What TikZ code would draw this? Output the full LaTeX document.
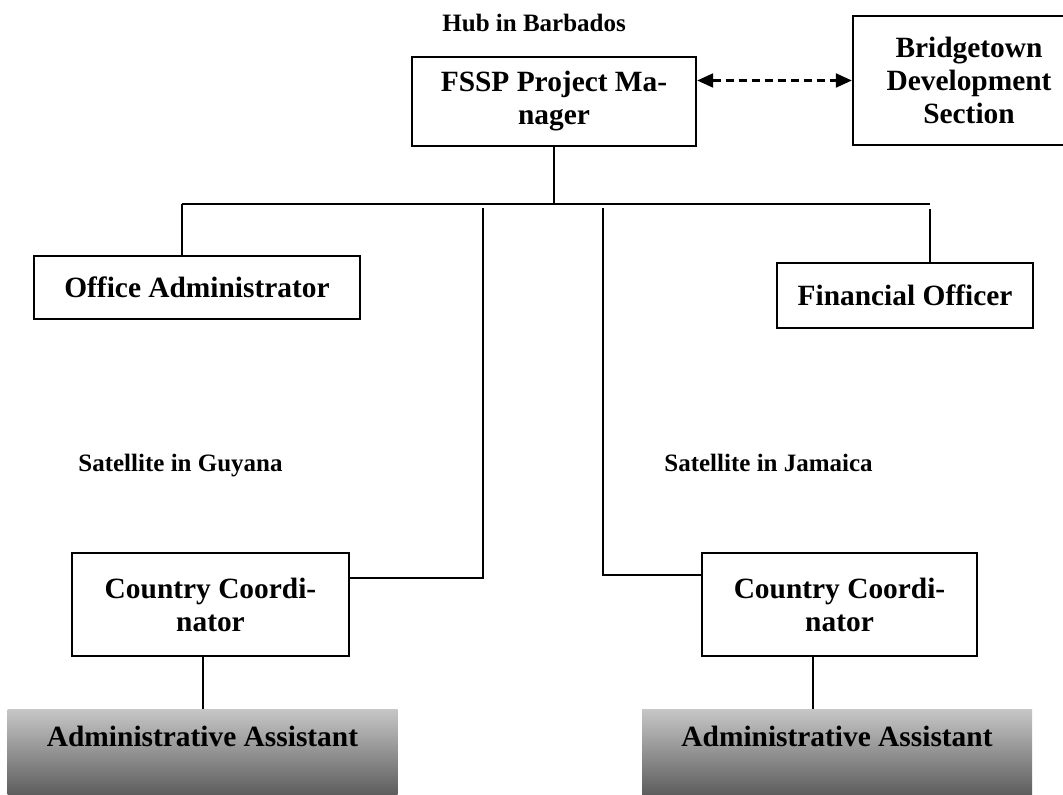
\documentclass[tikz,border=0pt]{standalone}
\usepackage{fontspec}
\setmainfont{Liberation Serif}
\usetikzlibrary{calc, arrows.meta}

\begin{document}
\begin{tikzpicture}[x=0.5pt, y=-0.5pt,
    every node/.style={font=\fontsize{14.7}{16.5}\selectfont\bfseries, align=center, inner sep=0pt},
    orgbox/.style={draw, line width=1.2pt, fill=white},
    sitelabel/.style={anchor=base west, font=\fontsize{12.5}{15}\selectfont\bfseries},
    aabox/.style={top color=black!22, middle color=black!36, bottom color=black!66,
                  minimum width=195pt, minimum height=45.5pt},
    link/.style={line width=1pt},
    dashlink/.style={line width=1.1pt, dash pattern=on 4pt off 2.5pt,
                     {Triangle[length=8pt,width=7pt]}-{Triangle[length=8pt,width=7pt]}}]
      \useasboundingbox (0,0) rectangle (1063,794);
      \clip (0,0) rectangle (1063,794);

      % 1. hub in Barbados
      \node[sitelabel] (hub) at (442,31) {Hub in Barbados};
      \node[orgbox, minimum width=142pt, minimum height=44.5pt] (pm) at (554,101.5)
        {FSSP Project Ma-\\nager};
      \node[orgbox, minimum width=116pt, minimum height=64.5pt] (bds) at (969,80.5)
        {Bridgetown\\Development\\Section};
      \node[orgbox, minimum width=163pt, minimum height=31.5pt] (oa) at (197,287.5)
        {Office Administrator};
      \node[orgbox, minimum width=128pt, minimum height=32.5pt] (fo) at (905,295.5)
        {Financial Officer};

      % 2. satellites in Guyana and Jamaica
      \node[sitelabel] (satG) at (78,471) {Satellite in Guyana};
      \node[sitelabel] (satJ) at (664,471) {Satellite in Jamaica};
      \node[orgbox, minimum width=138.5pt, minimum height=51.5pt] (ccG) at (210.5,604.5)
        {Country Coordi-\\nator};
      \node[orgbox, minimum width=137.5pt, minimum height=51.5pt] (ccJ) at (839.5,604.5)
        {Country Coordi-\\nator};

      % 3. shaded assistant boxes, text sits high
      \node[aabox] (aaG) at (202.5,754.5) {};
      \node[aabox] (aaJ) at (837,754.5) {};
      \node (aaGtext) at ($(aaG.north)+(0,28)$) {Administrative Assistant};
      \node (aaJtext) at ($(aaJ.north)+(0,28)$) {Administrative Assistant};

      % 4. bus line under the project manager
      \coordinate (busL) at (182,204);
      \coordinate (busR) at (930,204);
      \coordinate (tapG) at (483,208);
      \coordinate (tapJ) at (603,208);
      \coordinate (tapF) at (930,209);
      \coordinate (dropJ) at (813,656);
      \draw[link] (pm.south) -- (pm.south |- busL);
      \draw[link] (busL) -- (busR);
      \draw[link] (busL) -- (busL |- oa.north);
      \draw[link] (tapF) -- (tapF |- fo.north);

      % 5. lines down to the country coordinators
      \draw[link] (tapG) |- ($(ccG.north east)!0.25!(ccG.south east)$);
      \draw[link] (tapJ) |- ($(ccJ.north west)!0.22!(ccJ.south west)$);
      \draw[link] (aaG.north |- ccG.south) -- (aaG.north);
      \draw[link] (dropJ) -- (dropJ |- aaJ.north);

      % 6. dashed link to Bridgetown
      \coordinate (pmR) at ($(pm.north east)!0.27!(pm.south east)$);
      \draw[dashlink] (pmR) -- (pmR -| bds.west);
    \end{tikzpicture}
\end{document}
